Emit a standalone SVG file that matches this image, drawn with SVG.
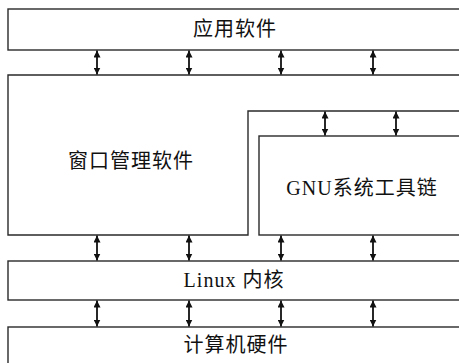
<svg xmlns="http://www.w3.org/2000/svg" width="459" height="363" viewBox="0 0 459 363">
  <style>
    .box { fill: #ffffff; stroke: #2a2a2a; stroke-width: 1.4; }
    .lbl { font-family: "Liberation Serif", "Noto Sans CJK SC", serif; font-size: 20px; fill: #111; text-anchor: middle; dominant-baseline: central; letter-spacing: 1px; }
    .conn { stroke: #111; stroke-width: 1.8; fill: none; marker-start: url(#ah); marker-end: url(#ah); }
  </style>
  <defs>
    <marker id="ah" viewBox="0 0 10 10" refX="10" refY="5" markerWidth="7" markerHeight="7" markerUnits="userSpaceOnUse" orient="auto-start-reverse">
      <path d="M0,0 L10,5 L0,10 Z" fill="#111"/>
    </marker>
  </defs>
  <rect width="459" height="363" fill="#ffffff"/>

  <g id="app">
    <rect class="box" x="8" y="9" width="460" height="41"/>
    <text class="lbl" x="235" y="29">应用软件</text>
  </g>

  <g id="window">
    <path class="box" d="M8,75 H470 V111 H248 V235 H8 Z"/>
    <text class="lbl" x="131" y="161">窗口管理软件</text>
  </g>

  <g id="gnu">
    <rect class="box" x="259" y="136" width="210" height="99"/>
    <text class="lbl" x="362" y="188">GNU系统工具链</text>
  </g>

  <g id="kernel">
    <rect class="box" x="8" y="261" width="460" height="39"/>
    <text class="lbl" x="234" y="280">Linux 内核</text>
  </g>

  <g id="hardware">
    <rect class="box" x="8" y="327" width="460" height="50"/>
    <text class="lbl" x="236" y="345">计算机硬件</text>
  </g>

  <g id="connectors">
    <line class="conn" x1="97" y1="50.5" x2="97" y2="74.5"/>
    <line class="conn" x1="189" y1="50.5" x2="189" y2="74.5"/>
    <line class="conn" x1="281" y1="50.5" x2="281" y2="74.5"/>
    <line class="conn" x1="373" y1="50.5" x2="373" y2="74.5"/>

    <line class="conn" x1="325" y1="111.5" x2="325" y2="135.5"/>
    <line class="conn" x1="396" y1="111.5" x2="396" y2="135.5"/>

    <line class="conn" x1="97" y1="235.5" x2="97" y2="260.5"/>
    <line class="conn" x1="189" y1="235.5" x2="189" y2="260.5"/>
    <line class="conn" x1="281" y1="235.5" x2="281" y2="260.5"/>
    <line class="conn" x1="373" y1="235.5" x2="373" y2="260.5"/>

    <line class="conn" x1="97" y1="300.5" x2="97" y2="326.5"/>
    <line class="conn" x1="189" y1="300.5" x2="189" y2="326.5"/>
    <line class="conn" x1="281" y1="300.5" x2="281" y2="326.5"/>
    <line class="conn" x1="373" y1="300.5" x2="373" y2="326.5"/>
  </g>
</svg>
